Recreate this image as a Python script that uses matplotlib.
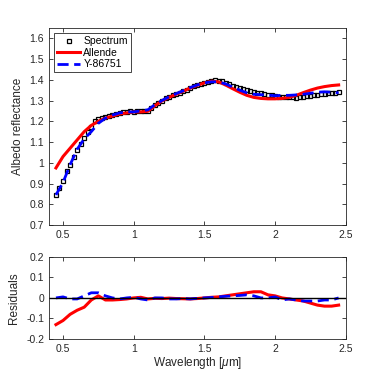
import numpy as np
import matplotlib
matplotlib.use("Agg")
import matplotlib.pyplot as plt
from matplotlib.ticker import FormatStrFormatter

plt.rcParams['font.family'] = ['Liberation Sans', 'DejaVu Sans']
plt.rcParams['axes.unicode_minus'] = False
plt.rcParams['mathtext.fontset'] = 'custom'
plt.rcParams['mathtext.it'] = 'Liberation Sans:italic'

# measured spectrum
wl_spec = np.arange(0.45, 2.4501, 0.025)
spectrum = [0.845, 0.88, 0.91, 0.96, 0.99, 1.03, 1.06, 1.09, 1.12, 1.15,
            1.17, 1.20, 1.21, 1.215, 1.22, 1.225, 1.23, 1.235, 1.24, 1.245,
            1.245, 1.248, 1.245, 1.248, 1.25, 1.248, 1.25, 1.262, 1.28, 1.29,
            1.30, 1.31, 1.318, 1.325, 1.33, 1.338, 1.345, 1.352, 1.36, 1.368,
            1.375, 1.38, 1.385, 1.39, 1.395, 1.398, 1.396, 1.392, 1.385, 1.378,
            1.372, 1.365, 1.36, 1.355, 1.35, 1.345, 1.342, 1.338, 1.335, 1.33,
            1.325, 1.325, 1.32, 1.318, 1.318, 1.316, 1.315, 1.315, 1.314, 1.315,
            1.318, 1.32, 1.322, 1.325, 1.328, 1.33, 1.332, 1.334, 1.335, 1.338,
            1.34]

# model fits
wl_model = np.arange(0.45, 2.4501, 0.05)
allende = [0.975, 1.03, 1.07, 1.11, 1.15, 1.18, 1.20, 1.215, 1.225, 1.235,
           1.24, 1.245, 1.245, 1.248, 1.275, 1.298, 1.315, 1.33, 1.345, 1.36,
           1.373, 1.385, 1.393, 1.39, 1.375, 1.357, 1.34, 1.325, 1.315, 1.31,
           1.308, 1.308, 1.31, 1.315, 1.325, 1.338, 1.35, 1.36, 1.367, 1.372,
           1.375]
y86751 = [0.845, 0.905, 0.99, 1.065, 1.115, 1.15, 1.19, 1.215, 1.23, 1.24,
          1.245, 1.245, 1.25, 1.255, 1.28, 1.30, 1.318, 1.333, 1.347, 1.362,
          1.375, 1.385, 1.39, 1.39, 1.38, 1.365, 1.35, 1.337, 1.33, 1.328,
          1.326, 1.323, 1.325, 1.325, 1.327, 1.33, 1.335, 1.34, 1.342, 1.34,
          1.337]

# residuals (spectrum - model)
res_allende = [-0.13, -0.11, -0.08, -0.06, -0.045, -0.01, 0.01, -0.01, -0.01, -0.008,
               -0.005, 0.0, 0.003, -0.005, -0.002, -0.003, -0.001, -0.003, -0.004, -0.005,
               -0.003, 0.0, 0.003, 0.005, 0.01, 0.015, 0.02, 0.025, 0.03, 0.03,
               0.015, 0.01, 0.0, -0.005, -0.01, -0.015, -0.025, -0.035, -0.04, -0.04,
               -0.035]
res_y86751 = [0.0, 0.005, -0.005, -0.005, 0.01, 0.025, 0.025, 0.01, 0.0, -0.005,
              0.0, 0.003, -0.005, -0.01, 0.0, 0.0, -0.005, -0.005, -0.003, -0.005,
              -0.002, 0.0, 0.002, 0.005, 0.008, 0.01, 0.012, 0.015, 0.01, 0.0,
              0.0, 0.005, -0.01, -0.005, -0.01, -0.015, -0.015, -0.015, -0.01, -0.01,
              0.0]

fig = plt.figure(figsize=(3.82, 3.82), dpi=100)
ax1 = fig.add_axes([0.128, 0.411, 0.777, 0.516])
ax2 = fig.add_axes([0.128, 0.1126, 0.777, 0.215])

ax1.plot(wl_spec, spectrum, 's', ms=2.6, mfc='none', mec='black', mew=0.9, label='Spectrum')
ax1.plot(wl_model, allende, '-', color='#ff0000', lw=2.2, label='Allende')
ax1.plot(wl_model, y86751, '--', color='#0000ff', lw=2, dashes=(4, 2), label='Y-86751')
ax1.set_xlim(0.4, 2.5)
ax1.set_ylim(0.7, 1.65)
ax1.set_yticks(np.arange(0.7, 1.61, 0.1))
ax1.set_xticks([0.5, 1, 1.5, 2, 2.5])
ax1.set_ylabel('Albedo reflectance', fontsize=8.5, color='#262626')
leg = ax1.legend(loc='upper left', fontsize=7.5, handlelength=2.2, handletextpad=0.3,
                 borderpad=0.3, labelspacing=0.15, fancybox=False, framealpha=1)
leg.get_frame().set_edgecolor('#262626')
leg.get_frame().set_linewidth(0.6)

ax2.plot(wl_model, res_allende, '-', color='#ff0000', lw=2.2)
ax2.plot(wl_model, res_y86751, '--', color='#0000ff', lw=2, dashes=(4, 2))
ax2.axhline(0, color='black', lw=1)
ax2.set_xlim(0.4, 2.5)
ax2.set_ylim(-0.2, 0.2)
ax2.set_yticks([-0.2, -0.1, 0, 0.1, 0.2])
ax2.set_xticks([0.5, 1, 1.5, 2, 2.5])
ax2.set_ylabel('Residuals', fontsize=8.5, color='#262626')
ax2.set_xlabel(r'Wavelength [$\mu$m]', fontsize=8.5, color='#262626', labelpad=1)

for ax in (ax1, ax2):
    ax.xaxis.set_major_formatter(FormatStrFormatter('%g'))
    ax.yaxis.set_major_formatter(FormatStrFormatter('%g'))
    ax.tick_params(direction='in', top=True, right=True, labelsize=7.5,
                   colors='#262626', length=3, width=0.6)
    for s in ax.spines.values():
        s.set_color('#262626')
        s.set_linewidth(0.6)

fig.savefig('out.png', dpi=100)
